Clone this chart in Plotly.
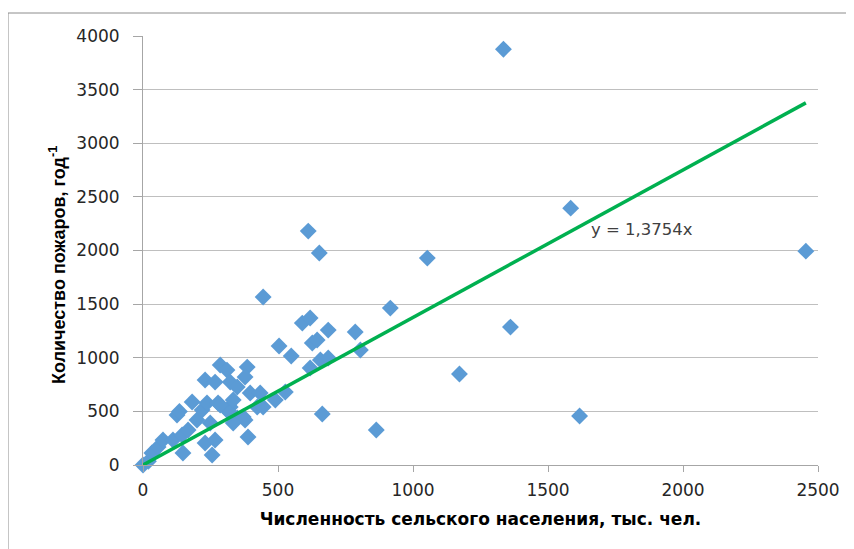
import plotly.graph_objects as go

# Rural population (thousand people) and fires per year
population = [0, 20, 33, 56, 74, 111, 148, 145, 167, 126, 135,
              182, 200, 219, 237, 230, 256, 267, 249, 278,
              230, 267, 286, 311, 323, 349, 311, 323, 349, 371, 378, 389, 334, 323, 334, 286,
              386, 378, 397, 434, 423, 445, 490, 527, 504, 549,
              445, 590, 619, 627, 645, 657, 686, 619, 686, 786, 805, 612, 653, 664,
              864, 916, 1053, 1172, 1335, 1361, 1584, 1617, 2455]
fires = [0, 35, 112, 168, 233, 233, 112, 280, 326, 466, 500,
         587, 419, 513, 578, 205, 93, 233, 391, 578,
         792, 773, 932, 885, 773, 727, 513, 541, 438, 447, 419, 261, 391, 485, 606, 559,
         913, 820, 671, 671, 541, 541, 606, 680, 1109, 1016,
         1566, 1323, 1370, 1137, 1165, 979, 997, 904, 1258, 1240, 1072, 2181, 1976, 475,
         326, 1463, 1929, 848, 3877, 1286, 2395, 457, 1994]
slope = 1.3754
trend_x = [0, 2455]
trend_y = [slope * v for v in trend_x]
x_ticks = [0, 500, 1000, 1500, 2000, 2500]
y_ticks = [0, 500, 1000, 1500, 2000, 2500, 3000, 3500, 4000]

fig = go.Figure()
fig.add_trace(go.Scatter(x=population, y=fires, mode="markers",
                         marker=dict(symbol="diamond", size=13, color="#5B9BD5"),
                         cliponaxis=False, showlegend=False))
fig.add_trace(go.Scatter(x=trend_x, y=trend_y, mode="lines",
                         line=dict(color="#00B050", width=3.5),
                         cliponaxis=False, showlegend=False))

fig.add_annotation(x=1650, y=2200, text="y = 1,3754x", showarrow=False,
                   xanchor="left", yanchor="middle",
                   font=dict(family="DejaVu Sans", size=16.5, color="#404040"))

# page body adds an 8px offset; compensate
off = 8
W, H = 854, 549
pl, pt, pw, ph = 143 - off, 36 - off, 675, 429
ml, mt = pl, pt
mr = W - ml - pw
mb = H - mt - ph

# chart-area frame: only left and top edges visible in the picture
fig.add_shape(type="line", xref="paper", yref="paper",
              x0=(8 - 143) / pw, x1=(8 - 143) / pw,
              y0=(465 - 560) / ph, y1=(465 - 13) / ph,
              line=dict(color="#8C8C8C", width=1), layer="below")
fig.add_shape(type="line", xref="paper", yref="paper",
              x0=(8 - 143) / pw, x1=(870 - 143) / pw,
              y0=(465 - 13) / ph, y1=(465 - 13) / ph,
              line=dict(color="#8C8C8C", width=1), layer="below")

fig.add_annotation(xref="paper", yref="paper",
                   x=(57 - 143) / pw, y=(465 - 265) / ph,
                   text="<b>Количество пожаров, год<sup>-1</sup></b>",
                   textangle=-90, showarrow=False, xanchor="center", yanchor="middle",
                   font=dict(family="Liberation Sans Narrow, Liberation Sans", size=18, color="#000000"))

fig.update_layout(
    width=W, height=H,
    margin=dict(l=ml, r=mr, t=mt, b=mb, autoexpand=False),
    paper_bgcolor="white", plot_bgcolor="white",
    font=dict(family="DejaVu Sans", size=17, color="#262626"),
    xaxis=dict(range=[0, 2500], tickvals=x_ticks, showgrid=False,
               showline=True, linecolor="#A6A6A6", linewidth=1,
               ticks="outside", ticklen=6, tickcolor="#A6A6A6",
               ticklabelstandoff=4, zeroline=False,
               title=dict(text="<b>Численность сельского населения, тыс. чел.</b>",
                          font=dict(family="DejaVu Sans", size=17, color="#000000"),
                          standoff=13)),
    yaxis=dict(range=[0, 4000], tickvals=y_ticks, showgrid=True,
               gridcolor="#BFBFBF", gridwidth=1,
               showline=True, linecolor="#A6A6A6", linewidth=1,
               ticks="outside", ticklen=9, tickcolor="#A6A6A6",
               ticklabelstandoff=10, zeroline=False),
)

fig.write_html("out.html")
